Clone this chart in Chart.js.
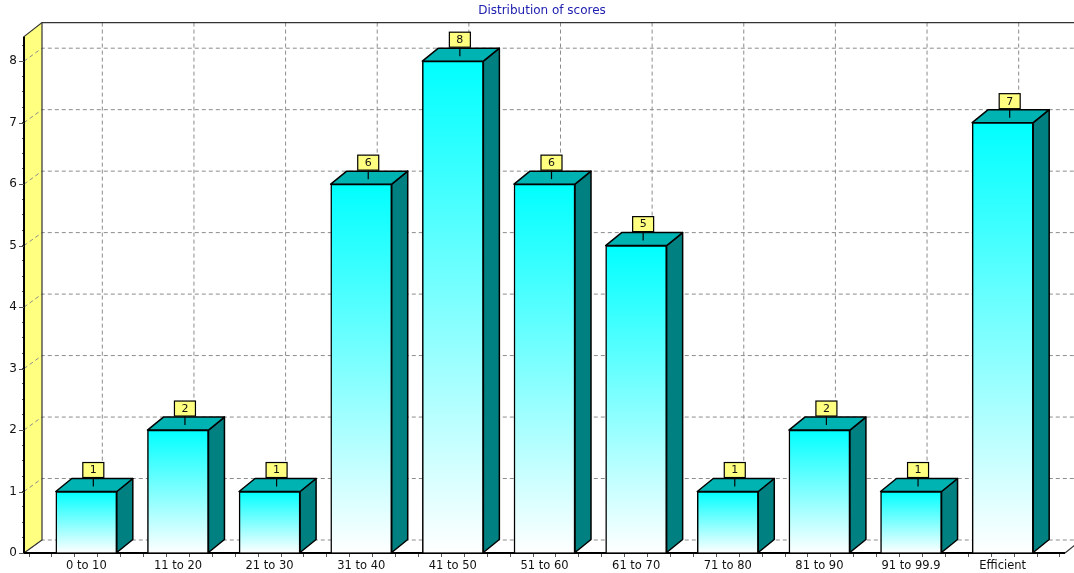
<!DOCTYPE html>
<html><head><meta charset="utf-8">
<style>html,body{margin:0;padding:0;background:#fff}canvas{display:block}</style>
<script src="https://cdn.jsdelivr.net/npm/chart.js@4"></script></head>
<body><canvas id="c" width="1074" height="573"></canvas>
<script>
const categories=["0 to 10","11 to 20","21 to 30","31 to 40","41 to 50","51 to 60","61 to 70","71 to 80","81 to 90","91 to 99.9","Efficient"];
const scores=[1,2,1,6,8,6,5,1,2,1,7];
const yTicks=[0,1,2,3,4,5,6,7,8];
const DX=16,DY=-13;
const FONT='"DejaVu Sans", Arial, sans-serif';
const threeD={id:'threeD',
 beforeDatasetsDraw(ch){
  const c=ch.ctx,x=ch.scales.x,y=ch.scales.y,a=ch.chartArea;
  const L=a.left,R=a.right,B=a.bottom,T=a.top;
  c.save();
  c.fillStyle='#ffff80';
  c.beginPath();c.moveTo(L,B);c.lineTo(L,T);c.lineTo(L+DX+2,T+DY-1);c.lineTo(L+DX+2,B+DY);c.closePath();c.fill();
  c.strokeStyle='#8c8c8c';c.lineWidth=1;c.setLineDash([4,3]);
  yTicks.forEach(v=>{const p=y.getPixelForValue(v);
   c.beginPath();c.moveTo(L,p);c.lineTo(L+DX+2,p+DY);c.lineTo(1074,p+DY);c.stroke();});
  categories.forEach((n,i)=>{const p=x.getPixelForValue(i)+DX;
   c.beginPath();c.moveTo(p,T+DY-1);c.lineTo(p,B+DY);c.stroke();});
  c.setLineDash([]);
  c.strokeStyle='#333';c.lineWidth=1.2;
  c.beginPath();c.moveTo(L,T);c.lineTo(L+DX+2,T+DY-1);c.lineTo(1074,T+DY-1);c.stroke();
  c.beginPath();c.moveTo(L+DX+2,T+DY-1);c.lineTo(L+DX+2,B+DY);c.lineTo(L,B);c.stroke();
  c.beginPath();c.moveTo(R,B);c.lineTo(R+DX,B+DY);c.stroke();
  c.strokeStyle='#000';c.lineWidth=2;
  c.beginPath();c.moveTo(L,T);c.lineTo(L,B);c.lineTo(R,B);c.stroke();
  c.strokeStyle='#555';c.lineWidth=1;
  yTicks.forEach(v=>{const p=Math.round(y.getPixelForValue(v))+.5;
   c.beginPath();c.moveTo(L-5,p);c.lineTo(L,p);c.stroke();});
  const m=ch.getDatasetMeta(0);
  m.data.forEach(b=>{const l=b.x-b.width/2,r=b.x+b.width/2,t=b.y,bo=b.base;
   c.strokeStyle='#000';c.lineWidth=1.5;c.lineJoin='round';
   c.fillStyle='#008080';
   c.beginPath();c.moveTo(r,t);c.lineTo(r+DX,t+DY);c.lineTo(r+DX,bo+DY);c.lineTo(r,bo);c.closePath();c.fill();c.stroke();
   c.fillStyle='#00b3b3';
   c.beginPath();c.moveTo(l,t);c.lineTo(l+DX,t+DY);c.lineTo(r+DX,t+DY);c.lineTo(r,t);c.closePath();c.fill();c.stroke();
  });
  c.restore();
 },
 afterDatasetsDraw(ch){
  const c=ch.ctx,m=ch.getDatasetMeta(0);
  c.save();
  m.data.forEach((b,i)=>{
   const cx=b.x+7,w=21,h=15,top=b.y-29;
   c.strokeStyle='#000';c.lineWidth=1.2;
   c.beginPath();c.moveTo(cx,top+h);c.lineTo(cx,top+h+9);c.stroke();
   c.fillStyle='#ffff80';c.fillRect(cx-w/2,top,w,h);
   c.strokeRect(cx-w/2,top,w,h);
   c.fillStyle='#111';c.font='11px '+FONT;c.textAlign='center';c.textBaseline='middle';
   c.fillText(String(scores[i]),cx,top+h/2+.5);
  });
  c.restore();
 }};
new Chart(document.getElementById('c'),{
 type:'bar',
 data:{datasets:[{label:'Distribution of scores',
  data:scores.map((v,i)=>({x:i,y:v})),
  barThickness:61,
  borderColor:'#000',borderWidth:1.5,
  backgroundColor(ctx){
   const a=ctx.chart.chartArea;
   if(!a||!ctx.raw)return '#00ffff';
   const g=ctx.chart.ctx.createLinearGradient(0,ctx.chart.scales.y.getPixelForValue(ctx.raw.y),0,a.bottom);
   g.addColorStop(0,'#00ffff');g.addColorStop(1,'#ffffff');return g;
  }}]},
 plugins:[threeD],
 options:{responsive:false,animation:false,
  layout:{padding:{left:19,right:9,top:0,bottom:0}},
  plugins:{legend:{display:false},tooltip:{enabled:false},
   title:{display:true,text:'Distribution of scores',color:'#2020b0',
    font:{family:FONT,size:12,weight:'normal'},padding:{top:3.8,bottom:18.4}}},
  scales:{
   x:{type:'linear',min:-0.68,max:10.68,offset:false,
    afterBuildTicks(s){const t=[];for(let i=-2;i<=42;i++){const v=i/4;if(v>=-0.68&&v<=10.68)t.push({value:v});}s.ticks=t;},
    afterFit(s){s.height=20;},
    grid:{display:true,drawOnChartArea:false,drawTicks:true,tickLength:4,tickColor:'#555'},
    border:{display:false},
    ticks:{autoSkip:false,maxRotation:0,minRotation:0,color:'#111',padding:2,font:{family:FONT,size:11.5},
     callback(v){return Number.isInteger(v)?categories[v]:'';}}},
   y:{min:0,max:8.4,
    afterBuildTicks(s){const t=[];for(let i=0;i<=33;i++){t.push({value:i/4});}s.ticks=t;},
    afterFit(s){s.width=5;s._computeLabelArea=()=>undefined;},
    grid:{display:true,drawOnChartArea:false,drawTicks:true,tickLength:2,tickColor:'#555'},
    border:{display:false},
    ticks:{autoSkip:false,color:'#111',padding:5,font:{family:FONT,size:12},
     callback(v){return Number.isInteger(v)?String(v):'';}}}
  }}});
</script></body></html>
